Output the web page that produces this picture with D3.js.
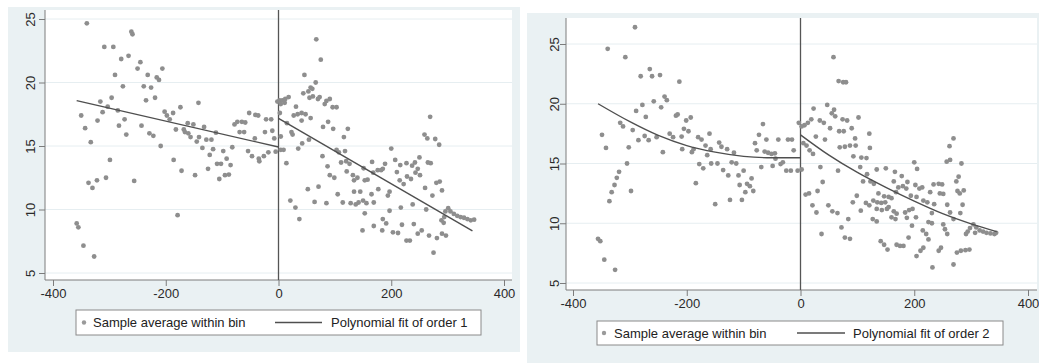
<!DOCTYPE html>
<html>
<head>
<meta charset="utf-8">
<script src="https://cdn.jsdelivr.net/npm/d3@7"></script>
<style>
  body { margin: 0; background: #fff; }
  svg { display: block; font-family: "Liberation Sans", Arial, sans-serif; }
</style>
</head>
<body>
<svg id="chart" width="1039" height="363"></svg>
<script>
// tick values shared by both panels
const xTicks = [-400, -200, 0, 200, 400];
const yTicks = [5, 10, 15, 20, 25];

// left panel: bin averages, [distance, value]
const leftBins = [
  [-340,24.66],[-261,24.0],[-259,23.8],[-309,22.8],[-293,22.8],[-279,21.85],[-266,22.1],[-245,21.6],[-250,21.1],[-290,20.6],
  [-232,20.6],[-206,21.1],[-216,20.4],[-212,20.2],[-276,19.7],[-239,19.7],[-226,19.6],[-219,18.8],[-235,18.6],[-296,18.8],
  [-316,18.5],[-303,18.1],[-312,17.66],[-350,17.4],[-285,17.8],[-321,17.0],[-273,17.1],[-283,16.6],[-243,16.6],[-270,15.9],
  [-343,16.4],[-333,15.3],[-229,16.0],[-222,15.8],[-202,17.7],[-198,17.4],[-193,17.1],[-187,17.6],[-209,15.0],[-174,18.05],
  [-142,18.4],[-182,16.3],[-168,16.3],[-166,16.1],[-161,16.8],[-151,16.7],[-160,16.0],[-156,15.7],[-132,16.5],[-141,15.7],
  [-145,15.35],[-128,15.5],[-119,15.5],[-135,14.85],[-111,16.05],[-116,14.75],[-122,14.3],[-98,14.6],[-92,14.0],[-82,14.9],
  [-109,13.6],[-102,13.6],[-85,13.5],[-125,13.2],[-105,12.4],[-95,12.7],[-88,12.75],[-186,13.9],[-172,13.05],[-148,12.7],
  [-179,9.55],[-78,16.7],[-73,16.9],[-65,16.9],[-59,16.85],[-69,16.1],[-61,16.1],[-52,17.6],[-41,17.45],[-36,17.4],
  [-42,15.6],[-54,14.6],[-47,14.2],[-35,14.0],[-26,14.2],[-34,13.8],[-22,17.1],[-13,17.1],[-24,16.1],[-11,16.2],
  [-7.5,15.6],[-18,14.5],[-5,14.55],[-2,18.5],[-299,13.9],[-306,12.5],[-322,12.3],[-337,12.1],[-330,11.7],[-256,12.25],
  [-358,8.9],[-355,8.6],[-346,7.15],[-327,6.3],
  [67,23.4],[75,21.8],[46,20.6],[66,20.0],[57,19.6],[60,19.5],[53,19.3],[44,19.15],[55,18.8],[61,18.9],
  [70,18.7],[73,18.85],[82,18.3],[85,18.55],[91,18.7],[96,18.05],[103,18.05],[2,18.6],[7,18.6],[12,18.7],
  [18,18.85],[4,18.3],[11,18.4],[31,18.1],[27,17.4],[34,17.5],[41,17.6],[48,17.5],[57,17.2],[41,17.0],
  [2.4,17.6],[15,16.8],[23,16.1],[25,15.9],[4,15.75],[42,15.2],[35,14.8],[54,15.5],[4,14.7],[9,14.7],
  [14,13.65],[79,16.5],[88,16.9],[97,16.35],[123,16.35],[116,15.7],[78,14.2],[103,14.7],[107,14.5],[118,14.6],
  [111,13.7],[120,13.8],[126,13.6],[87,13.4],[121,13.0],[91,12.7],[99,12.5],[132,12.7],[140,12.5],[134,12.3],
  [151,13.25],[166,13.75],[153,12.3],[158,12.35],[168,12.9],[176,13.1],[182,13.1],[185,13.2],[189,13.6],[200,14.8],
  [207,13.9],[216,13.5],[227,13.65],[237,13.45],[242,13.7],[250,14.1],[265,13.7],[270,13.65],[210,12.95],[215,12.3],
  [222,12.0],[228,12.6],[235,12.4],[243,12.9],[251,12.7],[247,13.2],[260,11.7],[280,12.1],[286,12.2],[290,11.5],
  [273,11.1],[259,15.9],[264,15.6],[269,17.3],[278,15.55],[285,15.1],[197,11.4],[194,11.1],[177,11.6],[165,11.2],
  [145,11.4],[134,11.4],[128,10.5],[137,10.4],[142,10.55],[150,10.7],[156,10.5],[169,10.55],[105,11.2],[114,10.55],
  [85,10.5],[64,10.6],[71,11.8],[52,11.6],[21,10.7],[30,10.15],[37,9.25],[153,9.7],[197,9.9],[217,10.15],
  [238,10.4],[262,10.0],[185,9.25],[191,8.9],[169,8.7],[184,8.35],[149,8.35],[203,8.2],[212,8.15],[219,8.8],
  [240,8.85],[227,7.55],[233,7.55],[247,8.1],[254,8.35],[267,7.95],[281,7.75],[290,8.1],[297,7.95],[275,6.6],
  [289,9.15],[293,8.95],[296,9.85],[301,10.1],[305,9.85],[311,9.65],[317,9.5],[323,9.4],[329,9.35],[335,9.25],
  [341,9.15],[347,9.2],[294,9.4]
];
// order 1 fit, each side of the cutoff
const leftFitBelow = [[-358,18.57],[0,14.92]];
const leftFitAbove = [[0,17.18],[344,8.31]];

// right panel: bin averages
const rightBins = [
  [-291,26.4],[-339,24.6],[-308,23.9],[-265,22.9],[-281,22.3],[-261,22.3],[-247,22.4],[-213,21.85],[-239,20.6],[-235,20.3],
  [-258,20.2],[-278,19.9],[-289,19.4],[-245,19.7],[-272,18.9],[-219,19.0],[-216,19.1],[-201,18.6],[-193,18.85],[-205,17.9],
  [-197,17.7],[-317,18.4],[-312,18.1],[-295,17.8],[-349,17.4],[-342,16.3],[-302,16.35],[-285,16.95],[-274,17.3],[-267,16.95],
  [-253,17.2],[-230,17.5],[-224,17.2],[-209,17.25],[-208,16.2],[-242,15.95],[-191,15.95],[-188,16.2],[-180,17.2],[-174,17.0],
  [-167,16.5],[-158,16.2],[-160,17.5],[-164,15.7],[-178,14.95],[-171,14.6],[-157,15.0],[-146,15.0],[-143,16.75],[-139,16.4],
  [-129,16.2],[-117,15.9],[-136,14.45],[-127,14.0],[-121,15.1],[-113,15.0],[-109,14.0],[-100,14.4],[-107,13.2],[-94,13.3],
  [-89,13.1],[-86,13.75],[-97,12.6],[-83,12.7],[-150,11.6],[-124,11.95],[-103,11.95],[-184,13.35],[-80,16.7],[-77,16.1],
  [-73,17.4],[-66,18.3],[-60,17.0],[-63,16.0],[-57,15.9],[-51,15.8],[-45,15.85],[-39,17.0],[-44,15.4],[-69,14.7],
  [-49,14.8],[-35,14.95],[-31,15.1],[-25,14.4],[-17,14.4],[-22,17.0],[-15,17.0],[-12,16.1],[-3,18.4],[-5,14.4],
  [-305,15.0],[-298,12.7],[-319,14.3],[-323,13.8],[-327,13.2],[-332,12.6],[-336,11.85],[-356,8.7],[-352,8.5],[-345,6.95],
  [-326,6.1],
  [58,23.9],[67,21.9],[75,21.8],[80,21.8],[47,19.9],[23,19.6],[59,19.5],[55,19.2],[61,18.95],[74,18.7],
  [82,18.6],[102,18.85],[19,18.7],[13,18.4],[7,18.2],[2,18.1],[34,18.6],[41,18.4],[52,17.95],[68,17.7],
  [76,17.7],[90,17.95],[96,17.1],[121,17.5],[27,17.25],[5,16.7],[10.6,16.5],[16,16.1],[22,15.8],[43,17.0],
  [69,16.35],[78,16.4],[87,16.5],[97,16.5],[122,16.3],[93,15.6],[107,15.5],[116,15.45],[105,14.7],[66,14.4],
  [35,14.7],[2,14.5],[134,14.5],[110,13.5],[117,14.1],[129,13.3],[123,13.5],[39,13.45],[9,12.4],[15,12.5],
  [30,12.7],[99,12.3],[21,11.5],[28,10.9],[49,11.5],[56,11.0],[65,10.85],[92,11.75],[84,10.35],[72,9.65],
  [37,9.1],[78,8.8],[87,8.7],[106,11.05],[115,11.7],[121,11.5],[128,11.9],[135,11.75],[142,11.7],[149,11.75],
  [137,12.5],[147,12.25],[155,12.2],[160,12.1],[134,11.2],[143,11.1],[152,11.2],[127,10.35],[134,10.15],[150,14.6],
  [166,14.3],[178,13.95],[164,13.5],[172,13.0],[180,13.1],[186,12.9],[168,12.6],[188,13.45],[200,15.1],[205,14.55],
  [202,13.2],[209,12.9],[214,13.0],[194,12.3],[204,12.2],[155,11.35],[164,11.0],[169,10.8],[160,10.5],[167,10.35],
  [184,10.9],[191,11.1],[197,11.2],[187,10.45],[203,10.5],[196,9.8],[216,11.9],[223,11.75],[228,12.6],[234,13.25],
  [243,13.3],[249,13.25],[245,12.5],[251,12.45],[235,11.6],[231,10.85],[225,10.1],[231,10.0],[215,9.4],[221,9.1],
  [225,8.65],[216,7.95],[211,7.7],[204,7.25],[232,6.3],[243,7.7],[247,7.95],[141,8.5],[147,8.2],[153,7.8],
  [169,8.2],[175,8.1],[181,8.1],[190,8.8],[257,15.15],[263,15.3],[262,16.45],[269,17.1],[283,15.0],[278,13.9],
  [274,13.5],[276,12.7],[280,12.5],[287,12.75],[258,11.55],[263,10.9],[269,10.35],[281,10.85],[285,11.55],[254,9.5],
  [258,9.1],[251,9.9],[269,6.55],[275,7.55],[282,7.7],[290,7.75],[297,7.8],[291,9.1],[294,9.3],[298,9.6],
  [304,9.9],[309,9.65],[315,9.4],[321,9.3],[327,9.2],[334,9.15],[341,9.1],[344,9.2],[307,9.2]
];
// order 2 fit
const rightFitBelow = [[-356,20.0],[-300,18.5],[-250,17.35],[-200,16.5],[-150,15.95],[-100,15.6],[-50,15.48],[0,15.48]];
const rightFitAbove = [[0,17.4],[50,15.7],[100,14.25],[150,13.0],[200,11.85],[250,10.8],[300,9.95],[345,9.3]];

const legendLabels = ["Sample average within bin", "Polynomial fit of order 1", "Polynomial fit of order 2"];

const panels = [
  {
    bg: { x: 8, y: 7, w: 512, h: 345 },
    plot: { x: 45, y: 10, w: 467, h: 270 },
    xRange: [53, 504], yRange: [273, 19],
    yLabelOffset: 15,
    legend: { x: 76, y: 310, w: 405, h: 25, dotX: 84, textX: 93, lineX0: 275, lineX1: 322, text2X: 331 },
    bins: leftBins, fits: [leftFitBelow, leftFitAbove], fitLabel: legendLabels[1]
  },
  {
    bg: { x: 527, y: 13, w: 512, h: 350 },
    plot: { x: 566, y: 18, w: 471, h: 272 },
    xRange: [573, 1028], yRange: [283, 44],
    yLabelOffset: 12,
    legend: { x: 597, y: 321, w: 406, h: 24, dotX: 604, textX: 614, lineX0: 797, lineX1: 845, text2X: 853 },
    bins: rightBins, fits: [rightFitBelow, rightFitAbove], fitLabel: legendLabels[2]
  }
];

const svg = d3.select("#chart");

panels.forEach(p => {
  const g = svg.append("g");

  const x = d3.scaleLinear().domain([-400, 400]).range(p.xRange);
  const y = d3.scaleLinear().domain([5, 25]).range(p.yRange);

  g.append("rect")
    .attr("x", p.bg.x).attr("y", p.bg.y)
    .attr("width", p.bg.w).attr("height", p.bg.h)
    .attr("fill", "#eaf1f3");

  g.append("rect")
    .attr("x", p.plot.x).attr("y", p.plot.y)
    .attr("width", p.plot.w).attr("height", p.plot.h)
    .attr("fill", "#fff");

  const bottom = p.plot.y + p.plot.h;

  // horizontal grid
  g.append("g")
    .selectAll("line")
    .data(yTicks)
    .enter()
    .append("line")
    .attr("x1", p.plot.x).attr("x2", p.plot.x + p.plot.w)
    .attr("y1", d => y(d)).attr("y2", d => y(d))
    .attr("stroke", "#e6eef1")
    .attr("stroke-width", 1);

  // y axis
  const yAxis = g.append("g")
    .attr("transform", `translate(${p.plot.x},0)`)
    .call(d3.axisLeft(y).tickValues(yTicks).tickSize(6).tickPadding(0).tickFormat(d3.format("d")));
  yAxis.select(".domain").attr("d", `M0,${p.plot.y}V${bottom}`).attr("stroke", "#7c7c7c");
  yAxis.selectAll(".tick line").attr("stroke", "#7c7c7c");
  yAxis.selectAll(".tick text")
    .attr("x", null).attr("dy", null)
    .attr("transform", `translate(${-p.yLabelOffset},0) rotate(-90)`)
    .attr("text-anchor", "middle")
    .attr("dominant-baseline", "central")
    .style("font-size", "13px")
    .attr("fill", "#2a2a2a");

  // x axis
  const xAxis = g.append("g")
    .attr("transform", `translate(0,${bottom})`)
    .call(d3.axisBottom(x).tickValues(xTicks).tickSize(6).tickPadding(3).tickFormat(d => d < 0 ? "-" + Math.abs(d) : d));
  xAxis.select(".domain").attr("d", `M${p.plot.x},0H${p.plot.x + p.plot.w}`).attr("stroke", "#7c7c7c");
  xAxis.selectAll(".tick line").attr("stroke", "#7c7c7c");
  xAxis.selectAll(".tick text")
    .style("font-size", "13px")
    .attr("fill", "#2a2a2a");

  // cutoff line
  g.append("line")
    .attr("x1", x(0)).attr("x2", x(0))
    .attr("y1", p.plot.y).attr("y2", bottom)
    .attr("stroke", "#555")
    .attr("stroke-width", 1.3);

  // bins
  g.append("g")
    .selectAll("circle")
    .data(p.bins)
    .enter()
    .append("circle")
    .attr("cx", d => x(d[0]))
    .attr("cy", d => y(d[1]))
    .attr("r", 2.4)
    .attr("fill", "#8e8e8e");

  // fit lines
  const line = d3.line()
    .x(d => x(d[0]))
    .y(d => y(d[1]))
    .curve(d3.curveMonotoneX);

  g.append("g")
    .selectAll("path")
    .data(p.fits)
    .enter()
    .append("path")
    .attr("d", line)
    .attr("fill", "none")
    .attr("stroke", "#4f4f4f")
    .attr("stroke-width", 1.4);

  // legend
  const L = p.legend;
  const ly = L.y + L.h / 2;
  g.append("rect")
    .attr("x", L.x).attr("y", L.y)
    .attr("width", L.w).attr("height", L.h)
    .attr("fill", "#fff")
    .attr("stroke", "#8a8a8a")
    .attr("stroke-width", 1);
  g.append("circle")
    .attr("cx", L.dotX).attr("cy", ly).attr("r", 2.2)
    .attr("fill", "#9a9a9a");
  g.append("text")
    .attr("x", L.textX).attr("y", ly)
    .attr("dominant-baseline", "central")
    .style("font-size", "13px")
    .attr("fill", "#222")
    .text(legendLabels[0]);
  g.append("line")
    .attr("x1", L.lineX0).attr("x2", L.lineX1)
    .attr("y1", ly).attr("y2", ly)
    .attr("stroke", "#4f4f4f")
    .attr("stroke-width", 1.3);
  g.append("text")
    .attr("x", L.text2X).attr("y", ly)
    .attr("dominant-baseline", "central")
    .style("font-size", "13px")
    .attr("fill", "#222")
    .text(p.fitLabel);
});
</script>
</body>
</html>
